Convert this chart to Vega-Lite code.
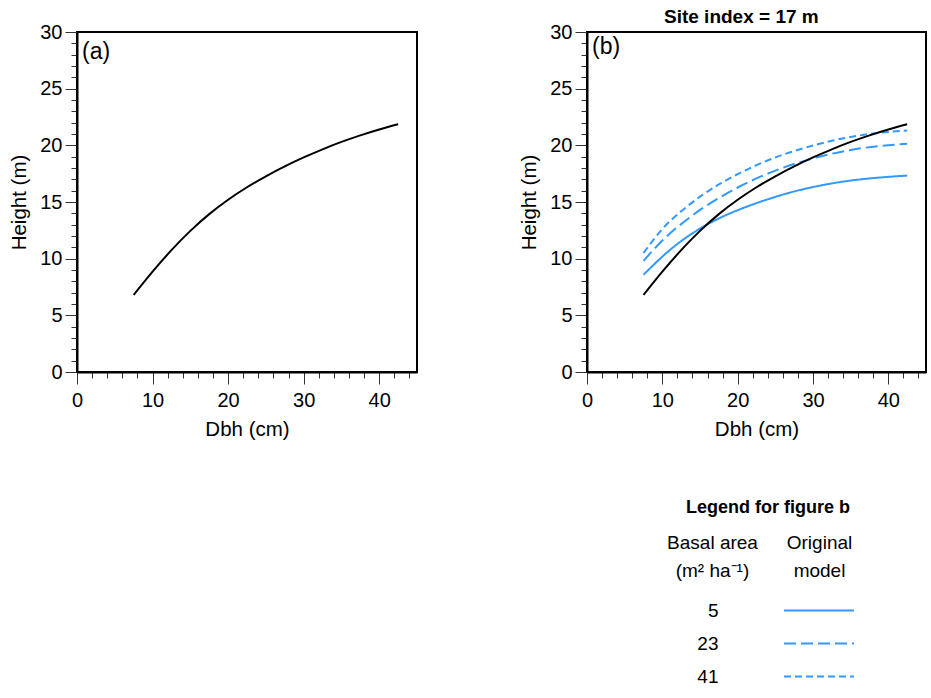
{
  "$schema": "https://vega.github.io/schema/vega-lite/v6.json",
  "padding": {"left": 8, "top": 8, "right": 0, "bottom": 0},
  "autosize": {"type": "pad"},
  "background": "white",
  "datasets": {
    "black": [
      {"dbh": 7.5, "height": 6.8}, {"dbh": 10, "height": 8.85}, {"dbh": 12.5, "height": 10.75},
      {"dbh": 15, "height": 12.45}, {"dbh": 17.5, "height": 13.93}, {"dbh": 20, "height": 15.2},
      {"dbh": 22.5, "height": 16.3}, {"dbh": 25, "height": 17.27}, {"dbh": 27.5, "height": 18.14},
      {"dbh": 30, "height": 18.93}, {"dbh": 32.5, "height": 19.65}, {"dbh": 35, "height": 20.3},
      {"dbh": 37.5, "height": 20.88}, {"dbh": 40, "height": 21.4}, {"dbh": 42.5, "height": 21.86}
    ],
    "blue": [
      {"ba": "5", "dbh": 7.5, "height": 8.58}, {"ba": "5", "dbh": 10, "height": 10.18}, {"ba": "5", "dbh": 12.5, "height": 11.55},
      {"ba": "5", "dbh": 15, "height": 12.65}, {"ba": "5", "dbh": 17.5, "height": 13.55}, {"ba": "5", "dbh": 20, "height": 14.28},
      {"ba": "5", "dbh": 22.5, "height": 14.9}, {"ba": "5", "dbh": 25, "height": 15.45}, {"ba": "5", "dbh": 27.5, "height": 15.93},
      {"ba": "5", "dbh": 30, "height": 16.32}, {"ba": "5", "dbh": 32.5, "height": 16.64}, {"ba": "5", "dbh": 35, "height": 16.89},
      {"ba": "5", "dbh": 37.5, "height": 17.08}, {"ba": "5", "dbh": 40, "height": 17.22}, {"ba": "5", "dbh": 42.5, "height": 17.33},
      {"ba": "23", "dbh": 7.5, "height": 9.8}, {"ba": "23", "dbh": 10, "height": 11.6}, {"ba": "23", "dbh": 12.5, "height": 13.05},
      {"ba": "23", "dbh": 15, "height": 14.3}, {"ba": "23", "dbh": 17.5, "height": 15.35}, {"ba": "23", "dbh": 20, "height": 16.28},
      {"ba": "23", "dbh": 22.5, "height": 17.08}, {"ba": "23", "dbh": 25, "height": 17.77}, {"ba": "23", "dbh": 27.5, "height": 18.35},
      {"ba": "23", "dbh": 30, "height": 18.85}, {"ba": "23", "dbh": 32.5, "height": 19.26}, {"ba": "23", "dbh": 35, "height": 19.59},
      {"ba": "23", "dbh": 37.5, "height": 19.84}, {"ba": "23", "dbh": 40, "height": 20.01}, {"ba": "23", "dbh": 42.5, "height": 20.13},
      {"ba": "41", "dbh": 7.5, "height": 10.5}, {"ba": "41", "dbh": 10, "height": 12.62}, {"ba": "41", "dbh": 12.5, "height": 14.18},
      {"ba": "41", "dbh": 15, "height": 15.47}, {"ba": "41", "dbh": 17.5, "height": 16.55}, {"ba": "41", "dbh": 20, "height": 17.45},
      {"ba": "41", "dbh": 22.5, "height": 18.25}, {"ba": "41", "dbh": 25, "height": 18.93}, {"ba": "41", "dbh": 27.5, "height": 19.5},
      {"ba": "41", "dbh": 30, "height": 19.98}, {"ba": "41", "dbh": 32.5, "height": 20.4}, {"ba": "41", "dbh": 35, "height": 20.74},
      {"ba": "41", "dbh": 37.5, "height": 21.0}, {"ba": "41", "dbh": 40, "height": 21.18}, {"ba": "41", "dbh": 42.5, "height": 21.31}
    ],
    "legendRows": [{"ba": "5"}, {"ba": "23"}, {"ba": "41"}]
  },
  "config": {
    "font": "Liberation Sans",
    "view": {"stroke": "black", "strokeWidth": 2},
    "axis": {
      "grid": false, "domainColor": "black", "domainWidth": 2,
      "tickColor": "#333333", "tickWidth": 1,
      "labelFont": "Liberation Sans", "labelFontSize": 20, "labelColor": "black",
      "titleFont": "Liberation Sans", "titleFontSize": 20.5, "titleFontWeight": "normal", "titleColor": "black"
    },
    "title": {"font": "Liberation Sans", "color": "black"}
  },
  "bounds": "flush",
  "spacing": 170,
  "hconcat": [
    {
      "width": 340, "height": 340,
      "title": {"text": "(a)", "anchor": "start", "frame": "group", "dx": 5, "offset": -42, "fontSize": 23, "fontWeight": "normal"},
      "data": {"name": "black"},
      "mark": {"type": "line", "color": "black", "strokeWidth": 2, "interpolate": "natural"},
      "encoding": {
        "x": {"field": "dbh", "type": "quantitative", "scale": {"domain": [0, 45], "nice": false},
          "axis": {"title": "Dbh (cm)", "values": [0,2,4,6,8,10,12,14,16,18,20,22,24,26,28,30,32,34,36,38,40,42,44],
            "labelExpr": "datum.value % 10 === 0 ? datum.label : ''",
            "tickSize": {"condition": {"test": "datum.value % 10 === 0", "value": 12}, "value": 6},
            "labelPadding": 6, "titlePadding": 9, "labelOverlap": false, "labelFlush": false, "labelBound": false}},
        "y": {"field": "height", "type": "quantitative", "scale": {"domain": [0, 30], "nice": false},
          "axis": {"title": "Height (m)", "values": [0,1,2,3,4,5,6,7,8,9,10,11,12,13,14,15,16,17,18,19,20,21,22,23,24,25,26,27,28,29,30],
            "labelExpr": "datum.value % 5 === 0 ? datum.label : ''",
            "tickSize": {"condition": {"test": "datum.value % 5 === 0", "value": 12}, "value": 6},
            "labelPadding": 3, "titlePadding": 10, "labelOverlap": false, "labelFlush": false, "labelBound": false}}
      }
    },
    {
      "title": {"text": "Site index = 17 m", "anchor": "start", "frame": "group", "dx": 77, "offset": -6, "fontSize": 19, "fontWeight": "bold"},
      "bounds": "flush",
      "spacing": 222,
      "vconcat": [
        {
          "width": 339, "height": 340,
          "title": {"text": "(b)", "anchor": "start", "frame": "group", "dx": 5, "offset": -37, "fontSize": 23, "fontWeight": "normal"},
          "encoding": {
            "x": {"field": "dbh", "type": "quantitative", "scale": {"domain": [0, 45], "nice": false},
              "axis": {"title": "Dbh (cm)", "values": [0,2,4,6,8,10,12,14,16,18,20,22,24,26,28,30,32,34,36,38,40,42,44],
                "labelExpr": "datum.value % 10 === 0 ? datum.label : ''",
                "tickSize": {"condition": {"test": "datum.value % 10 === 0", "value": 12}, "value": 6},
                "labelPadding": 6, "titlePadding": 9, "labelOverlap": false, "labelFlush": false, "labelBound": false}},
            "y": {"field": "height", "type": "quantitative", "scale": {"domain": [0, 30], "nice": false},
              "axis": {"title": "Height (m)", "values": [0,1,2,3,4,5,6,7,8,9,10,11,12,13,14,15,16,17,18,19,20,21,22,23,24,25,26,27,28,29,30],
                "labelExpr": "datum.value % 5 === 0 ? datum.label : ''",
                "tickSize": {"condition": {"test": "datum.value % 5 === 0", "value": 12}, "value": 6},
                "labelPadding": 3, "titlePadding": 10, "labelOverlap": false, "labelFlush": false, "labelBound": false}}
          },
          "layer": [
            {
              "data": {"name": "blue"},
              "mark": {"type": "line", "color": "#3399ff", "strokeWidth": 2, "interpolate": "natural"},
              "encoding": {
                "strokeDash": {"field": "ba", "type": "nominal", "scale": {"domain": ["5", "23", "41"], "range": [[1, 0], [12, 5], [7, 4]]}, "legend": null}
              }
            },
            {
              "data": {"name": "black"},
              "mark": {"type": "line", "color": "black", "strokeWidth": 2, "interpolate": "natural"}
            }
          ]
        },
        {
          "width": 267, "height": 99,
          "view": {"stroke": null},
          "title": {"text": "Legend for figure b", "anchor": "end", "frame": "group", "dx": -4, "offset": 16, "fontSize": 18, "fontWeight": "bold"},
          "data": {"name": "legendRows"},
          "mark": {"type": "rule", "color": "#3399ff", "strokeWidth": 2},
          "encoding": {
            "y": {"field": "ba", "type": "ordinal", "sort": ["5", "23", "41"], "scale": {"type": "point", "padding": 0.5},
              "axis": {"orient": "left", "offset": -197, "domain": false, "ticks": false, "labelPadding": 66, "labelFontSize": 19,
                "title": ["Basal area", "(m² ha⁻¹)"], "titleAngle": 0, "titleAlign": "center", "titleBaseline": "alphabetic",
                "titleX": -72, "titleY": -46, "titleLineHeight": 28, "titleFontSize": 19}},
            "x": {"datum": 0, "type": "quantitative", "scale": {"domain": [0, 1], "range": [197, 267]},
              "axis": {"orient": "top", "labels": false, "ticks": false, "domain": false, "grid": false,
                "title": ["Original", "model"], "titleBaseline": "alphabetic", "titleY": -46, "titleLineHeight": 28, "titleFontSize": 19}},
            "x2": {"datum": 1},
            "strokeDash": {"field": "ba", "type": "nominal", "scale": {"domain": ["5", "23", "41"], "range": [[1, 0], [19, 5], [10, 3.5]]}, "legend": null}
          }
        }
      ]
    }
  ]
}
